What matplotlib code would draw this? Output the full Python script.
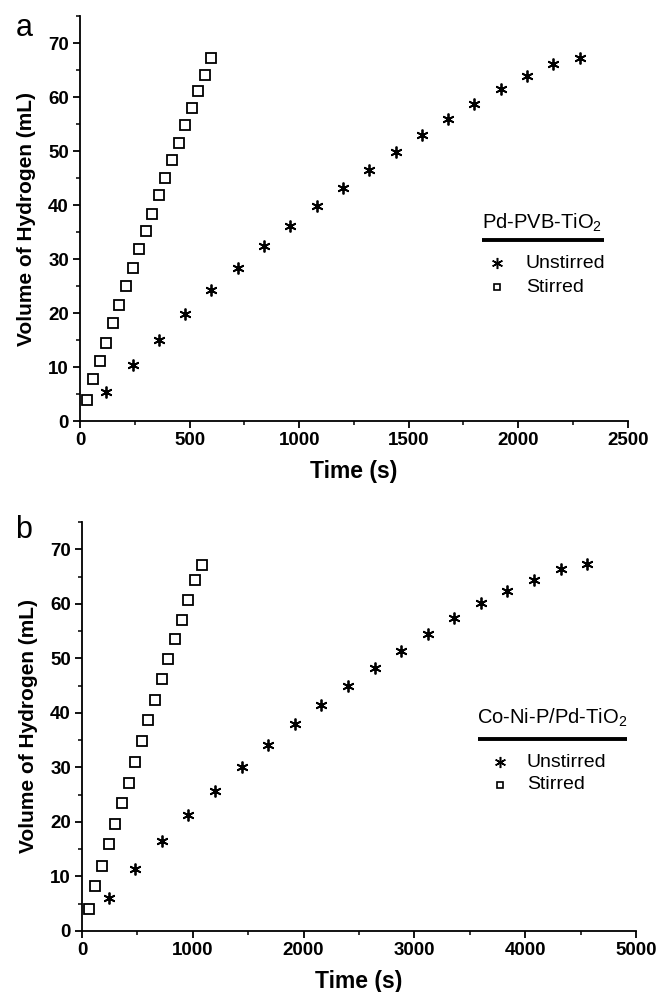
import matplotlib
matplotlib.use("Agg")
import matplotlib.pyplot as plt
from matplotlib.ticker import MultipleLocator

plt.rcParams['font.family'] = ['Liberation Sans', 'DejaVu Sans']
plt.rcParams['mathtext.fontset'] = 'custom'
plt.rcParams['mathtext.rm'] = 'Liberation Sans'

# panel a: Pd-PVB-TiO2
a_stir_t = [30, 60, 90, 120, 150, 180, 210, 240, 270, 300, 330, 360, 390, 420, 450, 480, 510, 540, 570, 600]
a_stir_v = [3.8, 7.7, 11.1, 14.5, 18.1, 21.5, 25.0, 28.3, 31.8, 35.2, 38.4, 41.8, 45.0, 48.4, 51.5, 54.8, 58.0, 61.2, 64.2, 67.2]
a_uns_t = [120, 240, 360, 480, 600, 720, 840, 960, 1080, 1200, 1320, 1440, 1560, 1680, 1800, 1920, 2040, 2160, 2280]
a_uns_v = [5.4, 10.3, 15.1, 19.8, 24.2, 28.4, 32.4, 36.1, 39.8, 43.2, 46.5, 49.8, 53.0, 56.0, 58.8, 61.5, 64.0, 66.1, 67.2]

# panel b: Co-Ni-P/Pd-TiO2
b_stir_t = [60, 120, 180, 240, 300, 360, 420, 480, 540, 600, 660, 720, 780, 840, 900, 960, 1020, 1080]
b_stir_v = [4.1, 8.2, 12.0, 15.9, 19.6, 23.5, 27.1, 31.0, 34.8, 38.6, 42.4, 46.3, 49.9, 53.5, 57.1, 60.7, 64.3, 67.1]
b_uns_t = [240, 480, 720, 960, 1200, 1440, 1680, 1920, 2160, 2400, 2640, 2880, 3120, 3360, 3600, 3840, 4080, 4320, 4560]
b_uns_v = [6.0, 11.3, 16.5, 21.3, 25.7, 30.1, 34.1, 37.9, 41.5, 45.0, 48.2, 51.4, 54.4, 57.4, 60.1, 62.3, 64.3, 66.3, 67.3]

labels = ['Unstirred', 'Stirred']

fig = plt.figure(figsize=(6.56, 9.92), dpi=100)
ax1 = fig.add_axes([0.122, 0.5756, 0.835, 0.408])
ax2 = fig.add_axes([0.125, 0.0615, 0.8445, 0.4123])

aster = (6, 2, 0)


def style(ax, xmax, xmajor):
    ax.set_xlim(0, xmax)
    ax.set_ylim(0, 75)
    ax.xaxis.set_major_locator(MultipleLocator(xmajor))
    ax.xaxis.set_minor_locator(MultipleLocator(xmajor / 2))
    ax.yaxis.set_major_locator(MultipleLocator(10))
    ax.yaxis.set_minor_locator(MultipleLocator(5))
    ax.spines['top'].set_visible(False)
    ax.spines['right'].set_visible(False)
    for s in ('left', 'bottom'):
        ax.spines[s].set_linewidth(1.3)
    ax.tick_params(which='major', direction='out', length=5, width=1.3, labelsize=13.5, pad=3)
    ax.tick_params(which='minor', direction='out', length=3, width=1.1)
    for lab in ax.get_xticklabels() + ax.get_yticklabels():
        lab.set_fontweight('bold')
    ax.set_xlabel('Time (s)', fontsize=16.5, fontweight='bold', labelpad=8)
    ax.set_ylabel('Volume of Hydrogen (mL)', fontsize=15, fontweight='bold', labelpad=9)


def key(ax, title, tx, ty, lx0, lx1, ly, mx, txx, y1, y2):
    tr = ax.transAxes
    ax.text(tx, ty, title, transform=tr, ha='center', va='center', fontsize=14.5)
    ax.plot([lx0, lx1], [ly, ly], transform=tr, color='black', lw=2.8,
            clip_on=False, solid_capstyle='butt')
    ax.plot([mx], [y1], transform=tr, linestyle='none', marker=aster, markersize=8,
            mec='black', mew=1.1, clip_on=False)
    ax.plot([mx], [y2], transform=tr, linestyle='none', marker='s', markersize=5,
            mfc='white', mec='black', mew=1.2, clip_on=False)
    ax.text(txx, y1, labels[0], transform=tr, ha='left', va='center', fontsize=14)
    ax.text(txx, y2, labels[1], transform=tr, ha='left', va='center', fontsize=14)


ax1.plot(a_uns_t, a_uns_v, linestyle='none', marker=aster, markersize=8.5, mec='black', mew=1.3)
ax1.plot(a_stir_t, a_stir_v, linestyle='none', marker='s', markersize=6.5, mfc='white',
         mec='black', mew=1.3)
style(ax1, 2500, 500)
key(ax1, r'Pd-PVB-TiO$_2$', 0.843, 0.489, 0.734, 0.956, 0.447, 0.761, 0.814, 0.390, 0.331)

ax2.plot(b_uns_t, b_uns_v, linestyle='none', marker=aster, markersize=8.5, mec='black', mew=1.3)
ax2.plot(b_stir_t, b_stir_v, linestyle='none', marker='s', markersize=6.5, mfc='white',
         mec='black', mew=1.3)
style(ax2, 5000, 1000)
key(ax2, r'Co-Ni-P/Pd-TiO$_2$', 0.848, 0.521, 0.715, 0.984, 0.469, 0.755, 0.803, 0.413, 0.357)

fig.text(24 / 656, 1 - 28 / 992, 'a', fontsize=22, ha='center', va='center')
fig.text(24 / 656, 1 - 530 / 992, 'b', fontsize=22, ha='center', va='center')

fig.savefig('out.png', dpi=100)
